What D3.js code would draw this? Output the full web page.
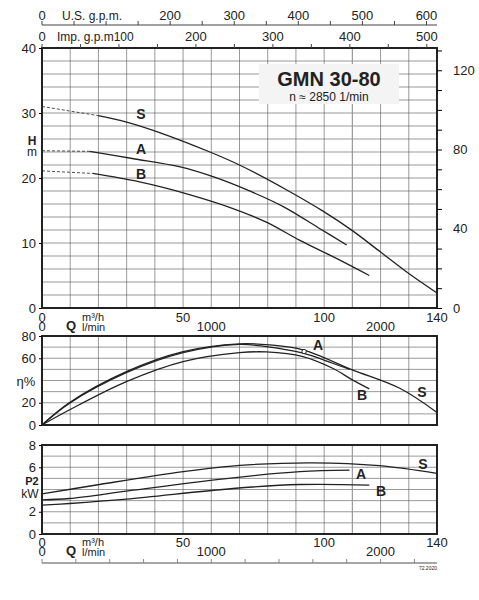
<!DOCTYPE html>
<html><head><meta charset="utf-8">
<script src="https://cdn.jsdelivr.net/npm/d3@7"></script>
<style>body{margin:0;background:#fff}text{font-family:"Liberation Sans",Arial,sans-serif;fill:#222}</style>
</head><body><svg id="c" width="479" height="600"></svg>
<script>
// Head H (m) vs Q (m3/h)
const headS_dash=[[0,31.0],[19.9,29.6]];
const headS=[[19.9,29.6],[30,28.6],[42.9,26.8],[59.5,24],[70,22],[86.6,18.2],[99.6,14.9],[110,11.9],[120,8.6],[130,5.3],[140,2.3]];
const headA_dash=[[0,24.2],[16.9,24.1]];
const headA=[[16.9,24.1],[32,23],[49,21.7],[60.6,20.2],[72.5,18.2],[85.5,15.6],[98.5,12.2],[108,9.7]];
const headB_dash=[[0,21.1],[18,20.7]];
const headB=[[18,20.7],[34.6,19.4],[51,17.6],[67.7,15.3],[79.5,13.2],[91.4,10.4],[104,7.7],[116,5]];
// Efficiency (%)
const effS=[[0,0],[9.8,20.3],[29.9,48],[50,66],[70,73],[80.7,72],[92.5,67.5],[110,49.6],[126.8,33],[140,11.3]];
const effA=[[0,0],[9.8,19.7],[29.9,47],[50,65],[70,72.5],[79.5,70.4],[92.5,64.5],[103,55.5],[109,50]];
const effB=[[0,0],[9.8,13.7],[29.9,39],[50,57],[70,65],[79.5,65.7],[92.5,61.5],[103,51],[110,40.6],[116,32.5]];
const effMarker=[92.9,66];
// Power P2 (kW)
const powS=[[0,3.6],[20.4,4.45],[50,5.6],[70,6.17],[96,6.4],[119.6,6.14],[140,5.44]];
const powA=[[0,3.07],[9.8,3.19],[32.3,3.94],[67.7,5.05],[91.4,5.6],[109,5.74]];
const powB=[[0,2.59],[9.8,2.74],[29.9,3.13],[67.7,4.09],[91.4,4.45],[116,4.4]];
const qTicks=[0,50,100,140];
const lminTicks=[0,1000,2000];
const usTicks=[0,200,300,400,500,600];
const impTicks=[0,200,300,400,500];
const headTicks=[0,10,20,30,40];
const ftTicks=[0,40,80,120];
const effTicks=[0,20,60,80];
const powTicks=[0,2,6,8];

const svg=d3.select("#c");
const L=42,R=437;
const x=d3.scaleLinear().domain([0,140]).range([L,R]);
const yH=d3.scaleLinear().domain([0,40]).range([308,48]);
const yE=d3.scaleLinear().domain([0,80]).range([425,336]);
const yP=d3.scaleLinear().domain([0,8]).range([534,445]);
const line=(y)=>d3.line().x(d=>x(d[0])).y(d=>y(d[1])).curve(d3.curveCatmullRom.alpha(0.5));

function panel(y,yStep,ymax){
  const g=svg.append("g");
  for(let v=0;v<=ymax;v+=yStep) g.append("line").attr("x1",L).attr("x2",R).attr("y1",y(v)).attr("y2",y(v)).attr("stroke","#555").attr("stroke-width",0.6);
  for(let q=10;q<140;q+=10) g.append("line").attr("x1",x(q)).attr("x2",x(q)).attr("y1",y(0)).attr("y2",y(ymax)).attr("stroke",q==110?"#999":"#555").attr("stroke-width",q==110?1.2:0.6);
  g.append("rect").attr("x",L).attr("y",y(ymax)).attr("width",R-L).attr("height",y(0)-y(ymax)).attr("fill","none").attr("stroke","#222").attr("stroke-width",2);
}
panel(yH,2,40);panel(yE,10,80);panel(yP,1,8);

function curve(data,y,dash){
  svg.append("path").attr("d",line(y)(data)).attr("fill","none").attr("stroke","#222").attr("stroke-width",dash?0.8:1.3).attr("stroke-dasharray",dash?"3,2":null);
}
curve(headS_dash,yH,true);curve(headA_dash,yH,true);curve(headB_dash,yH,true);
curve(headS,yH);curve(headA,yH);curve(headB,yH);
curve(effS,yE);curve(effA,yE);curve(effB,yE);
curve(powS,yP);curve(powA,yP);curve(powB,yP);
svg.append("circle").attr("cx",x(effMarker[0])).attr("cy",yE(effMarker[1])).attr("r",2.2).attr("fill","#fff").attr("stroke","#222");

function leftAxis(y,ticks){
  svg.append("g").attr("transform",`translate(${L},0)`).call(d3.axisLeft(y).tickValues(ticks).tickSize(3).tickPadding(3)).call(g=>{g.select(".domain").remove();g.selectAll("text").style("font-size","13px").attr("fill","#222");});
}
leftAxis(yH,headTicks);leftAxis(yE,effTicks);leftAxis(yP,powTicks);
const yFt=d3.scaleLinear().domain([0,40*3.2808]).range([308,48]);
svg.append("g").attr("transform",`translate(${R},0)`).call(d3.axisRight(yFt).tickValues(d3.range(0,131,10)).tickSize(5).tickFormat(d=>ftTicks.includes(d)?d:"")).call(g=>{g.select(".domain").remove();g.selectAll("text").style("font-size","13px").attr("x",16);});

function qAxis(yy){
  qTicks.forEach(v=>svg.append("text").attr("x",x(v)).attr("y",yy).attr("text-anchor","middle").style("font-size","13px").text(v));
}
qAxis(322);qAxis(547);
function lminAxis(yy){
  const xl=d3.scaleLinear().domain([0,140*1000/60]).range([L,R]);
  lminTicks.forEach(v=>svg.append("text").attr("x",xl(v)).attr("y",yy).attr("text-anchor","middle").style("font-size","13px").text(v));
  return xl;
}
lminAxis(331);
const xl=lminAxis(556);
svg.append("line").attr("x1",L).attr("x2",R).attr("y1",563).attr("y2",563).attr("stroke","#888").attr("stroke-width",1.5);
d3.range(0,2334,200).forEach(v=>svg.append("line").attr("x1",xl(v)).attr("x2",xl(v)).attr("y1",559).attr("y2",563).attr("stroke","#888"));
[322,547].forEach(yy=>{
  svg.append("text").attr("x",66).attr("y",yy+8).style("font-size","13px").style("font-weight","bold").text("Q");
  svg.append("text").attr("x",82).attr("y",yy-1).style("font-size","11px").text("m³/h");
  svg.append("text").attr("x",82).attr("y",yy+9).style("font-size","11px").text("l/min");
});
svg.append("text").attr("x",437).attr("y",570).attr("text-anchor","end").style("font-size","5px").text("72.2020");

// top axes
const xUS=d3.scaleLinear().domain([0,140*4.4029]).range([L,R]);
const xImp=d3.scaleLinear().domain([0,140*3.6662]).range([L,R]);
svg.append("line").attr("x1",L).attr("x2",R).attr("y1",25).attr("y2",25).attr("stroke","#444").attr("stroke-width",1.2);
d3.range(0,601,50).forEach(v=>svg.append("line").attr("x1",xUS(v)).attr("x2",xUS(v)).attr("y1",21).attr("y2",25).attr("stroke","#444"));
usTicks.forEach(v=>svg.append("text").attr("x",xUS(v)).attr("y",20).attr("text-anchor","middle").style("font-size","13px").text(v));
svg.append("text").attr("x",62).attr("y",20).style("font-size","12px").text("U.S. g.p.m.");
d3.range(0,501,50).forEach(v=>svg.append("line").attr("x1",xImp(v)).attr("x2",xImp(v)).attr("y1",44).attr("y2",48).attr("stroke","#444"));
impTicks.forEach(v=>svg.append("text").attr("x",xImp(v)).attr("y",41).attr("text-anchor","middle").style("font-size","13px").text(v));
svg.append("text").attr("x",57).attr("y",41).style("font-size","12px").text("Imp. g.p.m100");

// axis titles
svg.append("text").attr("x",32).attr("y",145).attr("text-anchor","middle").style("font-size","12px").style("font-weight","bold").text("H");
svg.append("text").attr("x",32).attr("y",156).attr("text-anchor","middle").style("font-size","12px").text("m");
svg.append("text").attr("x",26).attr("y",386).attr("text-anchor","middle").style("font-size","13px").text("η%");
svg.append("text").attr("x",32).attr("y",485).attr("text-anchor","middle").style("font-size","11px").style("font-weight","bold").text("P2");
svg.append("text").attr("x",30).attr("y",498).attr("text-anchor","middle").style("font-size","12px").text("kW");

// title
svg.append("rect").attr("x",259).attr("y",64).attr("width",140).attr("height",40).attr("fill","#f4f4f4");
svg.append("text").attr("x",329).attr("y",86).attr("text-anchor","middle").style("font-size","20px").style("font-weight","bold").text("GMN 30-80");
svg.append("text").attr("x",329).attr("y",101).attr("text-anchor","middle").style("font-size","12px").text("n ≈ 2850 1/min");

// curve labels
const lab=(t,xx,yy)=>svg.append("text").attr("x",xx).attr("y",yy).attr("text-anchor","middle").style("font-size","14px").style("font-weight","bold").text(t);
lab("S",141,119);lab("A",141,154);lab("B",141,179);
lab("A",318,350);lab("B",362,400);lab("S",422,397);
lab("S",423,469);lab("A",361,479);lab("B",381,496);
</script></body></html>
